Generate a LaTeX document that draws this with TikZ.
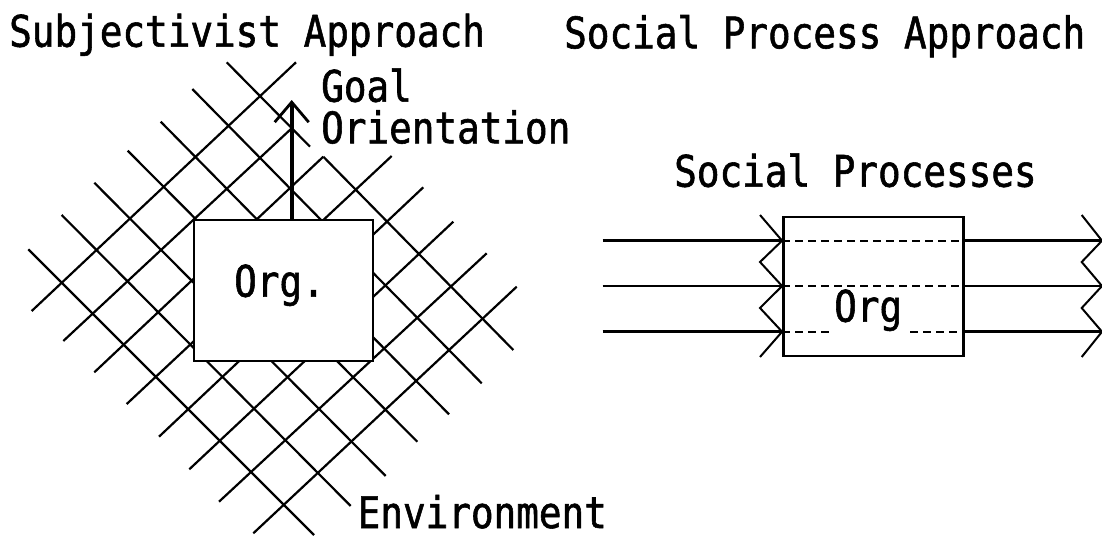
\documentclass[tikz,border=0pt]{standalone}
\usepackage{fontspec}
\newfontfamily\typew[FakeStretch=0.865,FakeBold=1.3]{DejaVu Sans Mono}
\usetikzlibrary{arrows.meta,calc}

\begin{document}
\begin{tikzpicture}[x=1pt,y=-1pt,
  lbl/.style={font=\typew\fontsize{43.5}{44}\selectfont, inner sep=0pt, anchor=base west},
  hatchline/.style={line width=2.2pt},
  orgbox/.style={draw, line width=2.4pt, fill=white, inner sep=0pt},
  flow/.style={line width=2.6pt},
  zigzag/.style={line width=2pt, line join=miter},
  innerdash/.style={line width=1.6pt, dash pattern=on 8pt off 5pt},
  goalarrow/.style={line width=3.8pt, -{Straight Barb[length=20pt,width=34pt,line width=2.8pt]}}]

\useasboundingbox (0,0) rectangle (1102,535);

% ---------- left: the environment as a cross-hatched field ----------
% lines running down to the right
\foreach \xa/\ya/\xb/\yb in {
    28.3/249.3/314/535,
    61.7/215/350.7/506,
    94.3/182.7/385.7/476,
    127.7/150.7/417.3/441.7,
    160.7/121.7/449/414.3,
    192.3/89/481.7/383.3,
    226.7/62.3/310/146.7,
    323.3/156.7/513.3/350}
  \draw[hatchline] (\xa,\ya) -- (\xb,\yb);
% lines running up to the right
\foreach \xa/\ya/\xb/\yb in {
    31.7/311/296/62.3,
    63.3/341/292/128,
    94.3/372.3/323.3/156.7,
    126.7/404/391.7/156,
    159/436.7/423.3/187.3,
    189.3/469.3/453.3/221.7,
    219/501.7/486.7/253.3,
    253.3/533.3/516.7/286.7}
  \draw[hatchline] (\xa,\ya) -- (\xb,\yb);

% the organisation sits on top of the field
\node[orgbox, minimum width=179pt, minimum height=141pt] (org1) at (283.7,290.5) {};
\node[lbl] (org1txt) at (234,296.7) {Org.};

% goal orientation
\coordinate (goaltip) at (291.7,100);
\draw[goalarrow] ([xshift=8pt]org1.north) -- (goaltip);
\node[lbl] (goal) at (321,101.7) {Goal};
\node[lbl] (orient) at (321,143.3) {Orientation};
\node[lbl] (env) at (357.5,528) {Environment};

\node[lbl] (title1) at (9,46.7) {Subjectivist Approach};

% ---------- right: organisation crossed by social processes ----------
\node[lbl] (title2) at (564,48.3) {Social Process Approach};
\node[lbl] (sp) at (674,186.7) {Social Processes};

\node[orgbox, minimum width=180pt, minimum height=139.3pt] (org2) at (873.3,286.35) {};
\node[lbl] (org2txt) at (834,321.7) {Org};

\coordinate (in1) at (602.7,240.7);
\coordinate (in2) at (602.7,286);
\coordinate (in3) at (602.7,331.7);
\coordinate (out1) at (1102,240.7);
\coordinate (out2) at (1102,286);
\coordinate (out3) at (1102,331.7);

\foreach \k in {1,2,3} {
  \draw[flow] (in\k) -- (in\k -| org2.west);
  \draw[flow] (in\k -| org2.east) -- (out\k);
}
% process lines continuing through the organisation
\draw[innerdash] (in1 -| org2.west) -- (in1 -| org2.east);
\draw[innerdash] (in2 -| org2.west) -- (in2 -| org2.east);
\draw[innerdash] (in3 -| org2.west) -- (833,331.7);
\draw[innerdash] (910,331.7) -- (in3 -| org2.east);

% arrowheads joined into zigzags
\draw[zigzag] (760,215) -- (in1 -| org2.west) -- (760,262) -- (in2 -| org2.west)
  -- (760,308) -- (in3 -| org2.west) -- (760,357);
\draw[zigzag] (1081.7,215) -- (out1) -- (1081.7,262) -- (out2)
  -- (1081.7,308) -- (out3) -- (1081.7,357);

\end{tikzpicture}
\end{document}
